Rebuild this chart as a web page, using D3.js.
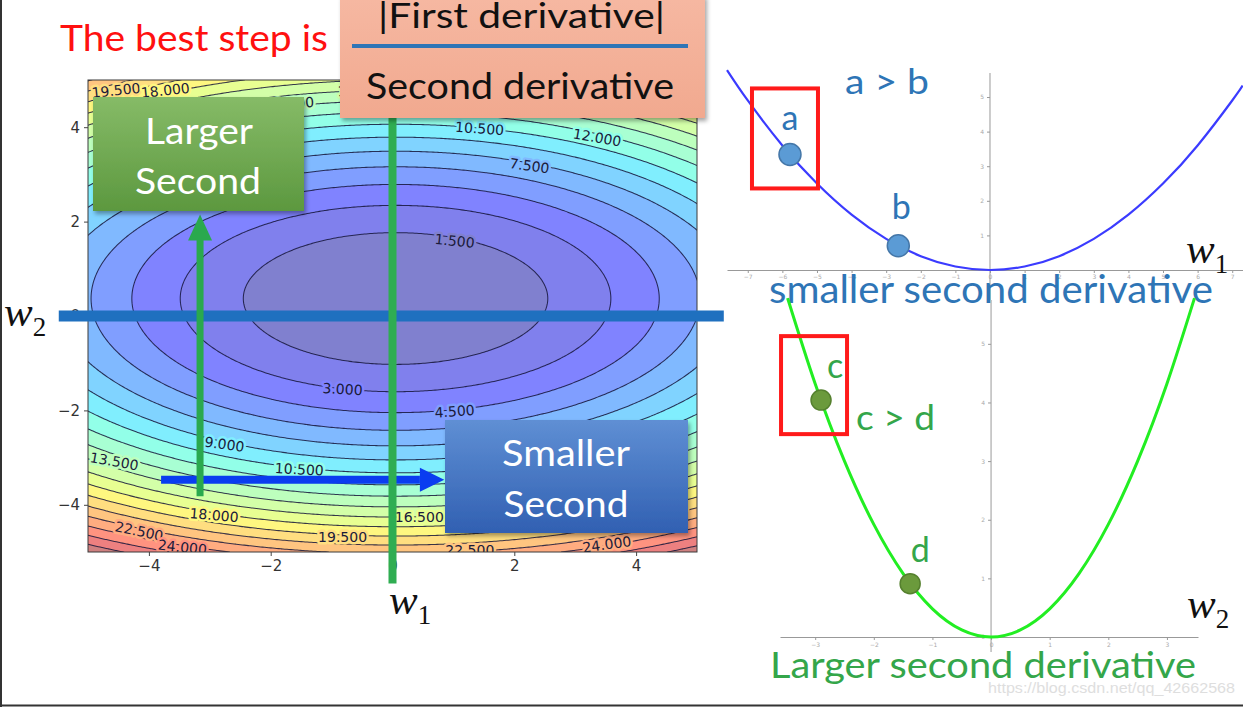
<!DOCTYPE html>
<html><head><meta charset="utf-8">
<script src="https://cdn.jsdelivr.net/npm/d3@7"></script>
<style>html,body{margin:0;padding:0;background:#fff;} svg{display:block}</style>
</head><body>
<svg id="c" width="1243" height="707"></svg>
<script>
// ---------------- data ----------------
const contourLevels = [0,1.5,3,4.5,6,7.5,9,10.5,12,13.5,15,16.5,18,19.5,21,22.5,24,25.5,27,28.5];
// loss surface of the left plot: z = a*(w1-x0)^2 + b*(w2-y0)^2
const bowlCoef = {a: 0.24, b: 0.77, x0: 0.05, y0: 0.37};
const contourTicks = [-4, -2, 0, 2, 4];
// inline contour labels: [text, w1, w2, rotation]
const contourLabels = [
  ["19.500", -4.54, 4.78, -6], ["18.000", -3.73, 4.78, -6], ["13.500", -1.69, 4.50, -4],
  ["15.000", -0.50, 4.78, -2], ["10.500", 1.43, 3.97, 4], ["12.000", 3.36, 3.78, 10],
  ["7.500", 2.25, 3.18, 8], ["1.500", 1.02, 1.59, 6], ["3.000", -0.82, -1.55, 3],
  ["4.500", 1.02, -2.02, -4], ["9.000", -2.76, -2.72, 8], ["10.500", -1.53, -3.25, 3],
  ["13.500", -4.57, -3.08, 10], ["18.000", -2.93, -4.22, 5], ["19.500", -0.82, -4.69, 0],
  ["16.500", 0.44, -4.27, 0], ["22.500", -4.16, -4.56, 12], ["24.000", -3.45, -4.90, 6],
  ["22.500", 1.27, -4.97, 0], ["24.000", 3.52, -4.84, -8], ["21.000", 4.45, -4.12, -10]
];
// top-right curve (smaller second derivative)
const topW1   = [-7.6, -7, -6, -5, -4, -3, -2, -1, 0, 1, 2, 3, 4, 5, 6, 7, 7.3];
const topLoss = [5.78, 4.9, 3.6, 2.5, 1.6, 0.9, 0.4, 0.1, 0, 0.1, 0.4, 0.9, 1.6, 2.5, 3.6, 4.9, 5.33];
const topPoints = [{name: "a", w: -5.78, loss: 3.34}, {name: "b", w: -2.65, loss: 0.70}];
const topTicksX = [-7,-6,-5,-4,-3,-2,-1,0,1,2,3,4,5,6,7];
const topTicksY = [1,2,3,4,5];
// bottom-right curve (larger second derivative)
const botW2   = [-3.47, -3, -2.5, -2, -1.5, -1, -0.5, 0, 0.5, 1, 1.5, 2, 2.5, 3, 3.47];
const botLoss = [5.78, 4.32, 3.0, 1.92, 1.08, 0.48, 0.12, 0, 0.12, 0.48, 1.08, 1.92, 3.0, 4.32, 5.78];
const botPoints = [{name: "c", w: -2.9, loss: 4.04}, {name: "d", w: -1.38, loss: 0.91}];
const botTicksX = [-3,-2,-1,0,1,2,3];
const botTicksY = [0,1,2,3,4,5];

// ---------------- helpers ----------------
const svg = d3.select("#c");
const SLIDE = "Lato, 'Open Sans', sans-serif";
const defs = svg.append("defs");
const sh = defs.append("filter").attr("id","sh").attr("x","-10%").attr("y","-10%").attr("width","130%").attr("height","140%");
sh.append("feDropShadow").attr("dx",2).attr("dy",3).attr("stdDeviation",2).attr("flood-color","#000").attr("flood-opacity",0.35);
function grad(id, c0, c1){
  const g = defs.append("linearGradient").attr("id",id).attr("x1",0).attr("y1",0).attr("x2",0).attr("y2",1);
  g.append("stop").attr("offset","0%").attr("stop-color",c0);
  g.append("stop").attr("offset","100%").attr("stop-color",c1);
}
grad("gGreen","#86bb67","#5c983f");
grad("gBlue","#5f8fd4","#3160b2");
grad("gSalmon","#f6b8a2","#f1a98f");

const jetR = [[0,0],[0.35,0],[0.66,1],[0.89,1],[1,0.5]];
const jetG = [[0,0],[0.125,0],[0.375,1],[0.64,1],[0.91,0],[1,0]];
const jetB = [[0,0.5],[0.11,1],[0.34,1],[0.65,0],[1,0]];
function ch(t, pts){
  for (let i = 1; i < pts.length; i++) if (t <= pts[i][0]) {
    const [x0,y0] = pts[i-1], [x1,y1] = pts[i];
    return y0 + (y1-y0)*(t-x0)/(x1-x0);
  }
  return pts[pts.length-1][1];
}
const lvMin = contourLevels[0], lvMax = contourLevels[contourLevels.length-1];
function bandColor(k){ // band between level k and k+1, jet with alpha 0.5 on white
  const hi = k+1 < contourLevels.length ? contourLevels[k+1] : lvMax;
  const t = ((contourLevels[k] + hi)/2 - lvMin)/(lvMax - lvMin);
  const f = v => Math.round(255*(0.5*v + 0.5));
  return d3.rgb(f(ch(t,jetR)), f(ch(t,jetG)), f(ch(t,jetB))).formatHex();
}
const zAt = (x,y) => bowlCoef.a*(x-bowlCoef.x0)**2 + bowlCoef.b*(y-bowlCoef.y0)**2;

// ---------------- left contour plot ----------------
const P = {l: 88, r: 697, t: 80, b: 552};
const xc = d3.scaleLinear().domain([-5,5]).range([P.l, P.r]);
const yc = d3.scaleLinear().domain([-5,5]).range([P.b, P.t]);
defs.append("clipPath").attr("id","plotClip").append("rect")
  .attr("x",P.l).attr("y",P.t).attr("width",P.r-P.l).attr("height",P.b-P.t);

const n = 301, step = 10/(n-1);
const grid = new Float64Array(n*n);
for (let j = 0; j < n; j++) for (let i = 0; i < n; i++)
  grid[j*n+i] = zAt(-5 + i*step, 5 - j*step);
const contours = d3.contours().size([n,n]).thresholds(contourLevels)(grid);
const proj = d3.geoTransform({point(gx, gy){
  this.stream.point(xc(-5 + (gx-0.5)*step), yc(5 - (gy-0.5)*step));
}});
const gpath = d3.geoPath(proj);
const cg = svg.append("g").attr("clip-path","url(#plotClip)");
cg.append("rect").attr("x",P.l).attr("y",P.t).attr("width",P.r-P.l).attr("height",P.b-P.t).attr("fill",bandColor(0));
cg.selectAll("path.band").data(contours).join("path").attr("class","band")
  .attr("d", gpath).attr("fill", (d,i) => bandColor(i)).attr("stroke","none");
cg.selectAll("path.iso").data(contours.slice(1)).join("path").attr("class","iso")
  .attr("d", gpath).attr("fill","none").attr("stroke","#15153a").attr("stroke-width",1.05).attr("stroke-opacity",0.85);
function levelIndex(z){ let k = 0; for (let i = 0; i < contourLevels.length; i++) if (z >= contourLevels[i]) k = i; return k; }
cg.selectAll("text.cl").data(contourLabels).join("text").attr("class","cl")
  .attr("transform", d => `translate(${xc(d[1])},${yc(d[2])}) rotate(${d[3]})`)
  .attr("text-anchor","middle").attr("dy","0.35em")
  .attr("font-family","'DejaVu Sans', sans-serif").attr("font-size",14)
  .attr("fill","#1a1a3a").attr("stroke", d => bandColor(levelIndex(zAt(d[1],d[2]))))
  .attr("stroke-width",5).attr("paint-order","stroke").attr("stroke-linejoin","round")
  .text(d => d[0]);
svg.append("rect").attr("x",P.l).attr("y",P.t).attr("width",P.r-P.l).attr("height",P.b-P.t)
  .attr("fill","none").attr("stroke","#3a3a3a").attr("stroke-width",1);
const axB = svg.append("g").attr("transform",`translate(0,${P.b})`)
  .call(d3.axisBottom(xc).tickValues(contourTicks).tickSize(4).tickPadding(4));
const axL = svg.append("g").attr("transform",`translate(${P.l},0)`)
  .call(d3.axisLeft(yc).tickValues(contourTicks).tickSize(4).tickPadding(4));
[axB, axL].forEach(a => {
  a.select(".domain").remove();
  a.selectAll("line").attr("stroke","#444");
  a.selectAll("text").attr("font-family","'DejaVu Sans', sans-serif").attr("font-size",15).attr("fill","#333");
});

// thick axis overlays
svg.append("line").attr("x1",xc(-5.48)).attr("x2",xc(5.44)).attr("y1",yc(0)).attr("y2",yc(0))
  .attr("stroke","#1f70bf").attr("stroke-width",11);
// blue arrow (w1 direction)
const arrY = yc(-3.47);
svg.append("line").attr("x1",xc(-3.8)).attr("x2",xc(0.45)).attr("y1",arrY).attr("y2",arrY)
  .attr("stroke","#0a3df0").attr("stroke-width",8);
svg.append("path").attr("d",`M${xc(0.85)},${arrY} L${xc(0.45)},${arrY-12} L${xc(0.45)},${arrY+12} Z`).attr("fill","#0a3df0");
// green vertical line at w1 = 0
svg.append("line").attr("x1",xc(0)).attr("x2",xc(0)).attr("y1",yc(4.6)).attr("y2",yc(-5.67))
  .attr("stroke","#2fad52").attr("stroke-width",8);
// green arrow (w2 direction)
const arrX = xc(-3.16);
svg.append("line").attr("x1",arrX).attr("x2",arrX).attr("y1",yc(-3.82)).attr("y2",yc(1.65))
  .attr("stroke","#2aa94e").attr("stroke-width",7);
svg.append("path").attr("d",`M${arrX},${yc(2.15)} L${arrX-12},${yc(1.6)} L${arrX+12},${yc(1.6)} Z`).attr("fill","#2aa94e");

// boxes
svg.append("rect").attr("x",340).attr("y",-5).attr("width",365).attr("height",123).attr("fill","url(#gSalmon)").attr("filter","url(#sh)");
svg.append("rect").attr("x",93).attr("y",97).attr("width",211).attr("height",114).attr("fill","url(#gGreen)").attr("filter","url(#sh)");
svg.append("rect").attr("x",445).attr("y",420).attr("width",243).attr("height",113).attr("fill","url(#gBlue)").attr("filter","url(#sh)");

function txt(s, x, y, size, fill, len, anchor){
  const t = svg.append("text").attr("x",x).attr("y",y).attr("font-family",SLIDE).attr("font-size",size)
    .attr("fill",fill).attr("text-anchor",anchor||"start").text(s);
  if (len) t.attr("textLength",len).attr("lengthAdjust","spacingAndGlyphs");
  return t;
}
txt("The best step is", 60, 51, 36, "#ff1010", 268);
txt("|First derivative|", 378, 28, 35, "#111", 287);
svg.append("line").attr("x1",352).attr("x2",688).attr("y1",46).attr("y2",46).attr("stroke","#2e75b6").attr("stroke-width",4);
txt("Second derivative", 366, 99, 37, "#111", 308);
txt("Larger", 199, 144, 36, "#fff", 108, "middle");
txt("Second", 198, 194, 36, "#fff", 126, "middle");
txt("Smaller", 566, 466, 36, "#fff", 128, "middle");
txt("Second", 566, 517, 36, "#fff", 125, "middle");

function wLabel(x, y, sub){
  const t = svg.append("text").attr("x",x).attr("y",y).attr("font-family","'Liberation Serif', 'DejaVu Serif', serif").attr("fill","#111");
  t.append("tspan").attr("font-style","italic").attr("font-size",43).text("w");
  t.append("tspan").attr("font-size",27).attr("dy",10).text(sub);
}
wLabel(4, 326, "2");
wLabel(389, 614, "1");

// ---------------- right: top curve ----------------
const xT = d3.scaleLinear().domain([-7.6, 7.3]).range([727, 1242.6]);
const yT = d3.scaleLinear().domain([0, 5.7]).range([270, 72.8]);
const fmt = d3.format("d");
const tiny = a => { a.selectAll("text").attr("font-size",6).attr("fill","#aaa").attr("font-family","'DejaVu Sans', sans-serif"); a.selectAll("line,path").attr("stroke","#999"); };
svg.append("g").attr("transform",`translate(0,${yT(0)})`)
  .call(d3.axisBottom(xT).tickValues(topTicksX).tickFormat(fmt).tickSize(3).tickSizeOuter(0).tickPadding(2)).call(tiny);
svg.append("line").attr("x1",xT(0)).attr("x2",xT(0)).attr("y1",73).attr("y2",300).attr("stroke","#999");
svg.append("g").attr("transform",`translate(${xT(0)},0)`)
  .call(d3.axisLeft(yT).tickValues(topTicksY).tickFormat(fmt).tickSize(3).tickPadding(3)).call(tiny)
  .select(".domain").remove();
svg.append("path").datum(topW1.map((w,i) => [w, topLoss[i]]))
  .attr("d", d3.line().x(d => xT(d[0])).y(d => yT(d[1])).curve(d3.curveNatural))
  .attr("fill","none").attr("stroke","#3b3bff").attr("stroke-width",2.2);
topPoints.forEach(p => {
  const px = xT(p.w), py = yT(p.loss);
  if (p.name === "a") svg.append("rect").attr("x",px-38).attr("y",py-66).attr("width",66).attr("height",100)
    .attr("fill","none").attr("stroke","#ff1a1a").attr("stroke-width",4);
  svg.append("circle").attr("cx",px).attr("cy",py).attr("r",11).attr("fill","#5b9bd5").attr("stroke","#4577a8").attr("stroke-width",1.5);
  txt(p.name, px + (p.name==="a"?0:3), py - (p.name==="a"?24:27), 34, "#2e75b6", null, "middle");
});
txt("a > b", 845, 94, 34, "#2e75b6", 84);
txt("smaller second derivative", 769, 303, 38, "#2e75b6", 444);
wLabel(1186, 263, "1");

// ---------------- right: bottom curve ----------------
const xB = d3.scaleLinear().domain([-3.6, 3.53]).range([780, 1198]);
const yB = d3.scaleLinear().domain([0, 5.85]).range([637, 294]);
svg.append("g").attr("transform",`translate(0,${yB(0)})`)
  .call(d3.axisBottom(xB).tickValues(botTicksX).tickFormat(fmt).tickSize(3).tickSizeOuter(0).tickPadding(3)).call(tiny);
svg.append("line").attr("x1",xB(0)).attr("x2",xB(0)).attr("y1",300).attr("y2",652).attr("stroke","#999");
svg.append("g").attr("transform",`translate(${xB(0)},0)`)
  .call(d3.axisLeft(yB).tickValues(botTicksY).tickFormat(fmt).tickSize(3).tickPadding(3)).call(tiny)
  .select(".domain").remove();
svg.append("path").datum(botW2.map((w,i) => [w, botLoss[i]]))
  .attr("d", d3.line().x(d => xB(d[0])).y(d => yB(d[1])).curve(d3.curveNatural))
  .attr("fill","none").attr("stroke","#22ee22").attr("stroke-width",3);
botPoints.forEach(p => {
  const px = xB(p.w), py = yB(p.loss);
  if (p.name === "c") svg.append("rect").attr("x",px-40).attr("y",py-64).attr("width",66).attr("height",98)
    .attr("fill","none").attr("stroke","#ff1a1a").attr("stroke-width",4);
  svg.append("circle").attr("cx",px).attr("cy",py).attr("r",10).attr("fill","#6b9a3c").attr("stroke","#55802e").attr("stroke-width",1.5);
  txt(p.name, px + (p.name==="c"?14:10), py - 22, 34, "#34a64a", null, "middle");
});
txt("c > d", 856, 430, 34, "#34a64a", 79);
txt("Larger second derivative", 770, 678, 37, "#34a64a", 426);
wLabel(1187, 618, "2");

svg.append("text").attr("x",988).attr("y",693).attr("font-family","'Liberation Sans', Arial, sans-serif")
  .attr("font-size",15).attr("fill","#dedede").attr("textLength",247).attr("lengthAdjust","spacingAndGlyphs")
  .text("https://blog.csdn.net/qq_42662568");

// slide frame
svg.append("line").attr("x1",1).attr("x2",1).attr("y1",0).attr("y2",707).attr("stroke","#333").attr("stroke-width",2);
svg.append("line").attr("x1",0).attr("x2",1243).attr("y1",705.5).attr("y2",705.5).attr("stroke","#333").attr("stroke-width",2);
</script>
</body></html>
